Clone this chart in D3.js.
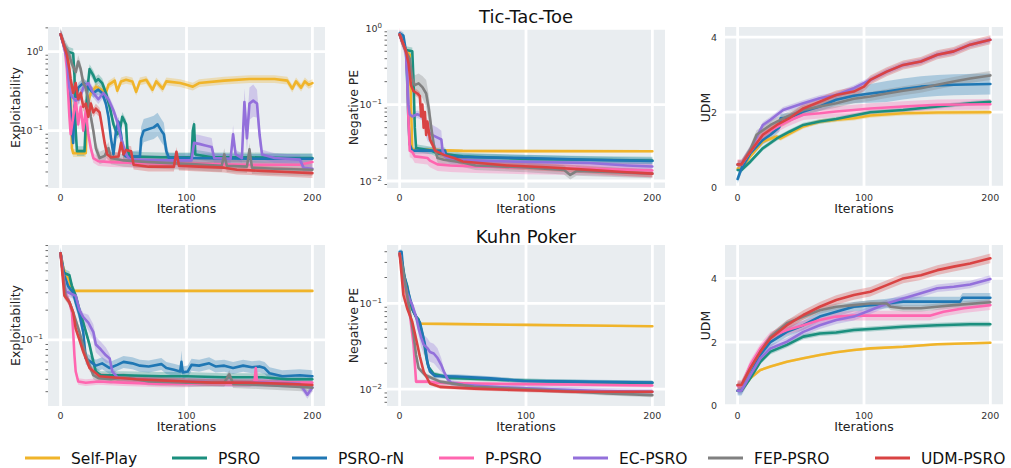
<!DOCTYPE html>
<html>
<head>
<meta charset="utf-8">
<script src="https://cdn.jsdelivr.net/npm/d3@7"></script>
<style>
  body { margin: 0; background: #fff; }
  text { font-family: "DejaVu Sans", sans-serif; }
</style>
</head>
<body>
<svg id="chart" width="1011" height="468"></svg>
<script>
// methods and colours (legend order = draw order)
var methods = ["Self-Play", "PSRO", "PSRO-rN", "P-PSRO", "EC-PSRO", "FEP-PSRO", "UDM-PSRO"];
var colors = ["#f0b42a", "#1b8f7e", "#1f77b4", "#ff66b0", "#9370db", "#808080", "#d94343"];
var iterTicks = [0, 100, 200];

// each series: [iteration, mean, optional spread]
// Tic-Tac-Toe, exploitability
var tttExploit = [
  [[0,1.66],[3,1.2],[6,0.9],[8,0.3],[9,0.06],[10,0.052],[20,0.052],[21,0.2],[24,0.3],[28,0.36],[32,0.33],[36,0.3],[38,0.38],[43,0.43],[45,0.32],[48,0.42],[52,0.44],[57,0.42],[60,0.31],[63,0.42],[68,0.44],[73,0.33],[76,0.42],[81,0.34],[84,0.42],[95,0.4],[100,0.38],[105,0.36],[110,0.4],[130,0.43],[150,0.45],[170,0.45],[180,0.43],[184,0.34],[187,0.42],[191,0.35],[194,0.42],[197,0.38],[200,0.4]],
  [[0,1.66],[3,1.15],[6,1.0],[10,0.95],[11,0.5],[12,0.1],[13,0.055],[19,0.055],[21,0.3],[23,0.6],[26,0.5],[28,0.42],[30,0.45],[33,0.4],[36,0.3],[39,0.2],[42,0.12],[45,0.09],[47,0.1],[49,0.15],[52,0.12],[53,0.06],[55,0.047],[80,0.046],[104,0.046],[105,0.1],[106,0.12],[107,0.05],[120,0.046],[150,0.046],[180,0.045],[200,0.045]],
  [[0,1.66],[3,1.2],[5,0.9],[7,0.3],[9,0.1],[10,0.07],[11,0.2],[14,0.35],[18,0.4],[22,0.35],[26,0.3],[30,0.33],[33,0.3],[36,0.22],[38,0.15],[40,0.08],[42,0.05],[44,0.1],[46,0.13],[48,0.09],[50,0.05],[52,0.047],[63,0.047,0.2],[64,0.08,0.4],[66,0.1,0.4],[70,0.105,0.4],[74,0.11,0.4],[77,0.12,0.4],[80,0.1,0.4],[82,0.09,0.4],[84,0.055,0.3],[86,0.045],[100,0.045],[150,0.044],[200,0.044]],
  [[0,1.66],[3,1.2],[5,0.6],[6,0.3],[7,0.15],[8,0.09],[10,0.15],[12,0.25],[14,0.12],[16,0.2],[18,0.1],[20,0.18],[22,0.09],[24,0.06],[26,0.045],[30,0.041],[40,0.04],[60,0.039],[100,0.038],[150,0.037],[190,0.037],[200,0.04]],
  [[0,1.66],[3,1.1],[5,0.8],[7,0.35],[9,0.27],[12,0.24],[15,0.25],[18,0.35],[22,0.4],[26,0.3],[30,0.25],[34,0.3],[38,0.25],[42,0.18],[45,0.13],[48,0.08],[52,0.05],[55,0.043],[80,0.042],[104,0.042],[106,0.07,0.3],[110,0.068,0.3],[115,0.065,0.3],[120,0.062,0.3],[122,0.045],[135,0.044],[137,0.09,0.3],[139,0.05],[144,0.045],[146,0.23,0.5],[148,0.08,0.5],[150,0.22,0.6],[153,0.24,0.6],[156,0.22,0.5],[158,0.09,0.4],[160,0.05],[170,0.045],[190,0.043],[193,0.034],[200,0.033]],
  [[0,1.66],[3,1.2],[6,1.0],[9,0.7],[12,0.55],[14,0.75],[16,0.6],[18,0.4],[20,0.35],[22,0.25],[24,0.15],[26,0.1],[28,0.06],[31,0.045],[35,0.048],[38,0.06],[40,0.045],[50,0.042],[70,0.04],[100,0.038],[128,0.036],[130,0.05],[132,0.036],[148,0.035],[150,0.058],[152,0.034],[170,0.033],[200,0.032]],
  [[0,1.66],[3,1.15],[5,0.9],[7,0.6],[8,0.45],[10,0.3],[12,0.4],[14,0.25],[16,0.3],[18,0.2],[20,0.22],[22,0.15],[24,0.22],[26,0.17],[28,0.19],[31,0.17],[33,0.11],[35,0.07],[37,0.05],[40,0.046],[46,0.047],[48,0.07],[50,0.05],[52,0.057],[56,0.055],[58,0.037],[70,0.035],[90,0.035],[92,0.054],[94,0.036],[110,0.035],[130,0.034],[140,0.032],[160,0.031],[180,0.03],[200,0.029]]
];
var tttExploitBand = [0.12, 0.15, 0.15, 0.15, 0.15, 0.2, 0.15];

// Tic-Tac-Toe, negative population effectivity
var tttNegPE = [
  [[0,0.83],[3,0.6],[6,0.5],[8,0.45],[9,0.1],[10,0.026],[50,0.0248],[100,0.0246],[200,0.0245]],
  [[0,0.83],[2,0.7],[4,0.55],[5,0.52],[10,0.5],[11,0.2],[12,0.05],[13,0.027],[25,0.025],[30,0.023],[40,0.022],[50,0.021],[100,0.0195],[150,0.019],[200,0.0185]],
  [[0,0.86],[3,0.8],[5,0.5],[6,0.2],[7,0.06],[8,0.03],[10,0.025],[36,0.025],[37,0.021],[60,0.0205],[100,0.02],[150,0.019],[200,0.0183]],
  [[0,0.83],[3,0.6],[5,0.5],[6,0.25],[7,0.06],[8,0.025],[10,0.024],[12,0.021],[22,0.02],[24,0.0185],[30,0.0165],[40,0.016],[60,0.0155],[100,0.015],[150,0.0145],[180,0.014],[200,0.0137]],
  [[0,0.83],[3,0.6],[5,0.5],[6,0.25],[7,0.1],[8,0.075],[10,0.07],[14,0.075],[18,0.07],[20,0.06,0.3],[22,0.045,0.35],[26,0.04,0.35],[30,0.037,0.35],[33,0.035,0.3],[34,0.025],[36,0.021],[40,0.019],[60,0.0185],[100,0.0178],[150,0.0172],[180,0.016],[200,0.0155]],
  [[0,0.83],[3,0.6],[5,0.5],[8,0.4],[10,0.22,0.3],[12,0.18,0.35],[15,0.19,0.35],[18,0.17,0.4],[21,0.14,0.5],[23,0.09,0.5],[25,0.05,0.4],[27,0.03],[30,0.02],[35,0.019],[50,0.0175],[60,0.016],[100,0.015],[130,0.014],[135,0.012],[140,0.0135],[170,0.013],[200,0.0125]],
  [[0,0.83],[3,0.62],[5,0.5],[7,0.35],[9,0.18],[11,0.15],[14,0.14],[16,0.13],[17,0.07],[18,0.1],[19,0.05],[20,0.08],[21,0.04],[22,0.06],[24,0.035],[26,0.03],[28,0.025],[35,0.022],[43,0.02],[50,0.018],[85,0.016],[120,0.015],[150,0.014],[180,0.013],[200,0.0125]]
];
var tttNegPEBand = [0.04, 0.12, 0.1, 0.22, 0.12, 0.15, 0.12];

// Tic-Tac-Toe, UDM
var tttUDM = [
  [[0,0.5],[3,0.5],[10,0.82],[20,1.22],[31,1.35],[34,1.3],[52,1.62],[65,1.75],[78,1.8],[92,1.84],[105,1.91],[131,1.97],[158,1.99],[200,2.0]],
  [[0,0.46],[3,0.46],[10,0.68],[20,1.04],[31,1.3],[41,1.48],[52,1.66],[65,1.75],[78,1.82],[92,1.91],[105,2.0],[131,2.06],[158,2.15],[184,2.24],[200,2.28]],
  [[0,0.22],[3,0.5],[10,0.9],[20,1.26],[26,1.4],[33,1.6],[34,1.84],[41,1.86],[52,2.02],[65,2.15],[78,2.33,0.15],[92,2.44,0.2],[105,2.5,0.25],[118,2.55,0.28],[131,2.62,0.28],[145,2.68,0.28],[158,2.71,0.28],[171,2.73,0.28],[200,2.75,0.28]],
  [[0,0.6],[3,0.6],[10,0.95],[20,1.4],[39,1.75],[52,1.93],[65,1.97],[78,2.02],[92,2.06],[105,2.1],[131,2.15],[158,2.2],[200,2.21]],
  [[0,0.6],[3,0.62],[10,1.0],[20,1.66],[26,1.8],[36,2.06],[52,2.24],[65,2.37],[78,2.46],[92,2.64],[105,2.86],[118,3.08],[131,3.26],[145,3.35],[158,3.53],[171,3.62],[184,3.8],[200,3.93]],
  [[0,0.6],[3,0.6],[10,1.0],[15,1.4],[26,1.66],[39,1.88],[52,2.06],[65,2.15],[78,2.24],[92,2.36],[105,2.42],[118,2.5],[131,2.57],[145,2.64],[158,2.73],[171,2.82],[184,2.9],[200,2.98]],
  [[0,0.61],[3,0.61],[10,0.95],[20,1.4],[31,1.66],[41,1.84],[52,2.1],[65,2.28],[78,2.46],[92,2.55],[100,2.68],[105,2.86],[118,3.08],[131,3.26],[145,3.35],[158,3.53],[171,3.62],[184,3.8],[200,3.93]]
];
var tttUDMBand = [0.06, 0.06, 0.12, 0.14, 0.08, 0.12, 0.12];

// Kuhn Poker, exploitability
var kuhnExploit = [
  [[0,0.75],[2,0.55],[4,0.45],[7,0.4],[8,0.32],[9,0.313],[100,0.313],[200,0.313]],
  [[0,0.75],[2,0.48],[7,0.45],[9,0.35],[12,0.28],[15,0.2],[18,0.15],[21,0.11],[23,0.089],[26,0.06],[28,0.048],[32,0.044],[50,0.044],[80,0.043],[100,0.043],[130,0.042],[160,0.042],[180,0.04],[200,0.04]],
  [[0,0.75],[3,0.45],[6,0.35],[10,0.3],[12,0.24],[15,0.18],[18,0.12],[20,0.065],[24,0.06],[28,0.055],[33,0.058],[39,0.052],[45,0.056],[50,0.06],[57,0.058],[63,0.055],[70,0.054],[80,0.057],[84,0.052],[90,0.05],[95,0.048],[96,0.06,0.3],[97,0.047],[101,0.048],[104,0.056],[110,0.055],[118,0.058],[123,0.054],[130,0.055],[137,0.052],[145,0.055],[152,0.053],[158,0.054],[162,0.052],[166,0.046],[176,0.043],[190,0.044],[200,0.043]],
  [[0,0.75],[2,0.45],[4,0.3],[7,0.24],[9,0.19],[10,0.12],[11,0.07],[12,0.048],[14,0.038],[20,0.037],[30,0.038],[50,0.037],[80,0.036],[100,0.036],[120,0.037],[150,0.036],[154,0.038],[155,0.052],[156,0.038],[170,0.037],[200,0.037]],
  [[0,0.75],[2,0.45],[4,0.31],[12,0.28],[15,0.2],[18,0.17],[22,0.15,0.2],[26,0.12,0.2],[28,0.09,0.2],[32,0.08,0.2],[36,0.07,0.2],[39,0.065],[41,0.048],[45,0.042],[60,0.04],[100,0.038],[130,0.037],[160,0.037],[190,0.036],[196,0.028],[200,0.033]],
  [[0,0.75],[2,0.45],[4,0.28],[7,0.24],[10,0.19],[15,0.12],[20,0.07],[26,0.044],[30,0.041],[40,0.04],[50,0.042],[70,0.038],[100,0.037],[130,0.037],[134,0.045],[137,0.036],[160,0.035],[180,0.034],[200,0.033]],
  [[0,0.75],[3,0.28],[7,0.24],[10,0.19],[12,0.13],[15,0.1],[18,0.076],[23,0.052],[31,0.043],[40,0.042],[60,0.04],[80,0.039],[100,0.038],[120,0.037],[150,0.037],[180,0.036],[200,0.035]]
];
var kuhnExploitBand = [0.03, 0.1, 0.15, 0.08, 0.1, 0.1, 0.08];

// Kuhn Poker, negative population effectivity
var kuhnNegPE = [
  [[0,0.38],[2,0.25],[4,0.15],[6,0.11],[9,0.09],[12,0.075],[15,0.058],[50,0.0572],[100,0.056],[150,0.055],[200,0.054]],
  [[0,0.38],[2,0.3],[4,0.2],[6,0.16],[8,0.11],[10,0.085],[13,0.07],[15,0.065],[17,0.05],[19,0.037],[21,0.024],[23,0.018],[27,0.015],[40,0.0135],[100,0.0125],[150,0.012],[200,0.0118]],
  [[0,0.4],[1.5,0.4],[3,0.23],[6,0.15],[11,0.08],[14,0.065],[16,0.06],[18,0.045],[20,0.033],[22,0.02],[24,0.016],[28,0.0142],[45,0.014],[72,0.0133],[98,0.0124],[140,0.0122],[200,0.0119]],
  [[0,0.38],[2,0.25],[4.5,0.15],[8.5,0.067],[11,0.033],[13,0.0122],[22,0.0122],[30,0.0118],[60,0.0116],[100,0.0114],[150,0.0112],[200,0.011]],
  [[0,0.38],[2,0.25],[6,0.13],[8,0.11],[10,0.096],[13,0.07],[15,0.051,0.2],[17,0.04,0.3],[19,0.033,0.3],[22,0.03,0.3],[24,0.027,0.3],[27,0.026,0.3],[30,0.023,0.3],[33,0.019,0.2],[35,0.016],[38,0.013],[41,0.0118],[50,0.0112],[80,0.0105],[120,0.0099],[160,0.0095],[200,0.0093]],
  [[0,0.38],[2,0.28],[5,0.15],[8,0.08],[11,0.043],[13,0.025],[15,0.0175],[20,0.0146],[32,0.0122],[59,0.0106],[111,0.0098],[164,0.0089],[200,0.0085]],
  [[0,0.38],[3,0.125],[6,0.087],[10,0.061],[12,0.045],[14,0.033],[16,0.024],[19,0.016],[24,0.0116],[32,0.0106],[59,0.0101],[85,0.0098],[138,0.0093],[200,0.0093]]
];
var kuhnNegPEBand = [0.03, 0.06, 0.06, 0.05, 0.08, 0.06, 0.05];

// Kuhn Poker, UDM
var kuhnUDM = [
  [[0,0.47],[3,0.47],[10,0.86],[18,1.12],[26,1.23],[39,1.38],[52,1.49],[65,1.59],[78,1.68],[92,1.75],[105,1.8],[131,1.85],[158,1.93],[200,1.98]],
  [[0,0.47],[3,0.47],[10,0.86],[18,1.38],[26,1.7],[39,1.91],[52,2.17],[65,2.27],[78,2.3],[92,2.38],[105,2.41],[131,2.48],[158,2.53],[184,2.56],[200,2.56]],
  [[0,0.47],[3,0.47],[10,0.96],[18,1.6],[26,2.0],[39,2.32],[52,2.53],[65,2.8],[78,2.95],[92,3.11],[105,3.16],[118,3.21],[131,3.27],[176,3.27],[178,3.39],[200,3.39]],
  [[0,0.62],[3,0.62],[10,1.28],[18,1.8],[26,2.17],[39,2.38],[52,2.53],[65,2.69],[78,2.8],[92,2.83],[152,2.83],[163,2.95],[179,3.06],[200,3.16]],
  [[0,0.47],[3,0.47],[10,0.96],[18,1.49],[26,1.8],[39,2.01],[52,2.32],[65,2.53],[78,2.69],[92,2.8],[105,3.0],[118,3.21],[131,3.37],[145,3.53],[158,3.69],[171,3.74],[184,3.81],[200,3.98]],
  [[0,0.65],[3,0.65],[10,1.17],[18,1.7],[26,2.17],[39,2.59],[52,2.8],[65,3.0],[78,3.11],[92,3.16],[105,3.21],[118,3.21],[121,3.11],[131,3.06],[145,3.06],[158,3.11],[171,3.16],[200,3.25]],
  [[0,0.65],[3,0.65],[10,1.17],[18,1.7],[26,2.12],[39,2.53],[52,2.85],[65,3.11],[78,3.32],[92,3.48],[105,3.58],[118,3.79],[131,4.0],[145,4.1],[158,4.26],[171,4.37],[184,4.47],[200,4.63]]
];
var kuhnUDMBand = [0.04, 0.08, 0.15, 0.15, 0.12, 0.1, 0.15];

var udmTicks = [0, 2, 4];

var svg = d3.select("#chart");
var colLeft = [48, 387, 725];
var colRight = [325, 665, 1003];
var rowTop = [27, 245];
var rowBottom = [188, 406];
var ylabelX = [19.5, 357.5, 709.5];
// legend entry starts (line left end)
var legendX = [25, 172, 292, 439, 573, 708, 875];

var panels = [
  { series: tttExploit, band: tttExploitBand, col: 0, row: 0, log: true, dom: [0.0188, 2.05], label: "Exploitability" },
  { series: tttNegPE, band: tttNegPEBand, col: 1, row: 0, log: true, dom: [0.0081, 1.04], label: "Negative PE" },
  { series: tttUDM, band: tttUDMBand, col: 2, row: 0, log: false, dom: [-0.02, 4.27], label: "UDM" },
  { series: kuhnExploit, band: kuhnExploitBand, col: 0, row: 1, log: true, dom: [0.0215, 0.911], label: "Exploitability" },
  { series: kuhnNegPE, band: kuhnNegPEBand, col: 1, row: 1, log: true, dom: [0.00634, 0.479], label: "Negative PE" },
  { series: kuhnUDM, band: kuhnUDMBand, col: 2, row: 1, log: false, dom: [-0.01, 5.05], label: "UDM" }
];

function drawPanel(p, idx) {
  var x0 = colLeft[p.col], x1 = colRight[p.col];
  var y0 = rowTop[p.row], y1 = rowBottom[p.row];
  var g = svg.append("g");

  var x = d3.scaleLinear().domain([-10, 210]).range([x0, x1]);
  var y = (p.log ? d3.scaleLog() : d3.scaleLinear()).domain(p.dom).range([y1, y0]);

  g.append("rect")
    .attr("x", x0).attr("y", y0)
    .attr("width", x1 - x0).attr("height", y1 - y0)
    .attr("fill", "#e9edf0");

  // y ticks
  var major, minor = [];
  if (p.log) {
    major = [];
    var lo = Math.floor(Math.log10(p.dom[0])), hi = Math.ceil(Math.log10(p.dom[1]));
    for (var k = lo; k <= hi; k++) {
      var v = Math.pow(10, k);
      if (v >= p.dom[0] && v <= p.dom[1]) major.push(k);
      for (var m = 2; m <= 9; m++) {
        var mv = m * v;
        if (mv >= p.dom[0] && mv <= p.dom[1]) minor.push(mv);
      }
    }
  } else {
    major = udmTicks;
  }

  // grid
  iterTicks.forEach(function (t) {
    g.append("line")
      .attr("x1", x(t)).attr("x2", x(t))
      .attr("y1", y0).attr("y2", y1)
      .attr("stroke", "#fff").attr("stroke-width", 2.8);
  });
  major.forEach(function (t) {
    var yy = p.log ? y(Math.pow(10, t)) : y(t);
    g.append("line")
      .attr("x1", x0).attr("x2", x1)
      .attr("y1", yy).attr("y2", yy)
      .attr("stroke", "#fff").attr("stroke-width", 2.8);
  });

  // minor tick marks (log axes)
  minor.forEach(function (t) {
    g.append("line")
      .attr("x1", x0 - 2.5).attr("x2", x0)
      .attr("y1", y(t)).attr("y2", y(t))
      .attr("stroke", "#444").attr("stroke-width", 0.8);
  });

  // tick labels
  iterTicks.forEach(function (t) {
    g.append("text")
      .attr("x", x(t)).attr("y", y1 + 13)
      .attr("text-anchor", "middle")
      .attr("font-size", 9.5).attr("fill", "#333")
      .text(t);
  });
  major.forEach(function (t) {
    if (p.log) {
      var tx = g.append("text")
        .attr("x", x0 - 5).attr("y", y(Math.pow(10, t)) + 3.5)
        .attr("text-anchor", "end")
        .attr("font-size", 9.5).attr("fill", "#333");
      tx.append("tspan").text("10");
      tx.append("tspan").attr("dy", -4).attr("font-size", 7)
        .text(t === 0 ? "0" : "\u2212" + Math.abs(t));
    } else {
      g.append("text")
        .attr("x", x0 - 8).attr("y", y(t) + 3.5)
        .attr("text-anchor", "end")
        .attr("font-size", 9.5).attr("fill", "#333")
        .text(t);
    }
  });

  // axis labels
  g.append("text")
    .attr("x", (x0 + x1) / 2).attr("y", y1 + 25)
    .attr("text-anchor", "middle")
    .attr("font-size", 12.5).attr("fill", "#222")
    .text("Iterations");
  g.append("text")
    .attr("transform", "translate(" + ylabelX[p.col] + "," + (y0 + y1) / 2 + ") rotate(-90)")
    .attr("text-anchor", "middle")
    .attr("font-size", 12.5).attr("fill", "#222")
    .text(p.label);

  // clip for the data
  var clipId = "clip" + idx;
  svg.append("clipPath").attr("id", clipId)
    .append("rect")
    .attr("x", x0).attr("y", y0)
    .attr("width", x1 - x0).attr("height", y1 - y0);
  var dg = g.append("g").attr("clip-path", "url(#" + clipId + ")");

  p.series.forEach(function (pts, i) {
    var spread = function (d) { return d.length > 2 ? d[2] : p.band[i]; };
    var area = d3.area()
      .x(function (d) { return x(d[0]); })
      .y0(function (d) { return p.log ? y(d[1] / (1 + spread(d))) : y(d[1] - spread(d)); })
      .y1(function (d) { return p.log ? y(d[1] * (1 + spread(d))) : y(d[1] + spread(d)); });
    dg.append("path")
      .datum(pts)
      .attr("d", area)
      .attr("fill", colors[i])
      .attr("fill-opacity", 0.3);
  });

  p.series.forEach(function (pts, i) {
    var line = d3.line()
      .x(function (d) { return x(d[0]); })
      .y(function (d) { return y(d[1]); });
    dg.append("path")
      .datum(pts)
      .attr("d", line)
      .attr("fill", "none")
      .attr("stroke", colors[i])
      .attr("stroke-width", 2.6)
      .attr("stroke-linejoin", "round")
      .attr("stroke-linecap", "round");
  });
}

panels.forEach(drawPanel);

// titles
svg.append("text")
  .attr("x", 526).attr("y", 22.5)
  .attr("text-anchor", "middle").attr("font-size", 18).attr("fill", "#111")
  .text("Tic-Tac-Toe");
svg.append("text")
  .attr("x", 526).attr("y", 242.5)
  .attr("text-anchor", "middle").attr("font-size", 18).attr("fill", "#111")
  .text("Kuhn Poker");

// legend
var legend = svg.append("g");
methods.forEach(function (name, i) {
  var lx = legendX[i];
  legend.append("line")
    .attr("x1", lx).attr("x2", lx + 35)
    .attr("y1", 458).attr("y2", 458)
    .attr("stroke", colors[i]).attr("stroke-width", 3);
  legend.append("text")
    .attr("x", lx + 46).attr("y", 463.5)
    .attr("font-size", 15.5).attr("fill", "#111")
    .text(name);
});
</script>
</body>
</html>
